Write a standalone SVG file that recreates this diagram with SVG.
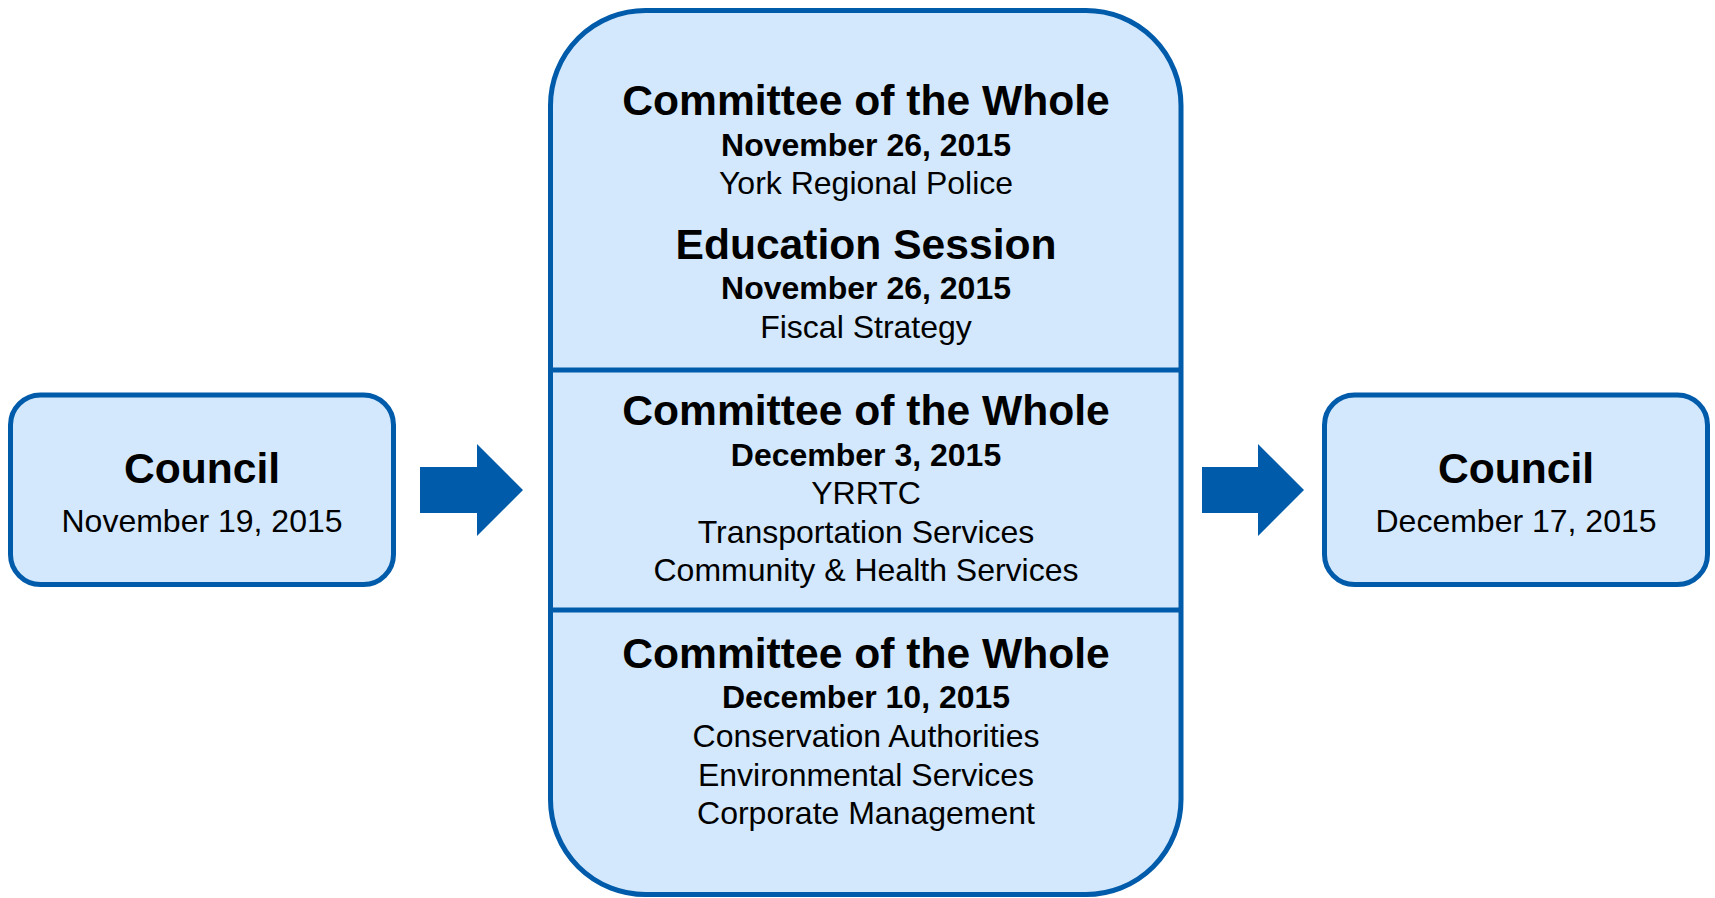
<svg xmlns="http://www.w3.org/2000/svg" width="1715" height="898" viewBox="0 0 1715 898">
<style>
.box{fill:#D3E8FC;stroke:#005BAA;stroke-width:5}
.div{stroke:#005BAA;stroke-width:5;fill:none}
.arrow{fill:#005BAA}
text{font-family:"Liberation Sans",Arial,sans-serif;fill:#000;text-anchor:middle}
.t{font-size:42.6px;font-weight:bold}
.d{font-size:32px;font-weight:bold}
.b{font-size:32px}
</style>
<rect width="1715" height="898" fill="#fff"/>
<g id="council-nov19">
<rect class="box" x="10.5" y="395" width="383" height="189.5" rx="30"/>
<text class="t" x="202" y="483">Council</text>
<text class="b" x="202" y="532">November 19, 2015</text>
</g>
<g id="committee">
<rect class="box" x="550.5" y="10.5" width="630.5" height="884" rx="95"/>
<line class="div" x1="550.5" y1="370" x2="1181" y2="370"/>
<line class="div" x1="550.5" y1="610" x2="1181" y2="610"/>
<text class="t" x="866" y="115">Committee of the Whole</text>
<text class="d" x="866" y="156">November 26, 2015</text>
<text class="b" x="866" y="194">York Regional Police</text>
<text class="t" x="866" y="259">Education Session</text>
<text class="d" x="866" y="299">November 26, 2015</text>
<text class="b" x="866" y="338">Fiscal Strategy</text>
<text class="t" x="866" y="425">Committee of the Whole</text>
<text class="d" x="866" y="466">December 3, 2015</text>
<text class="b" x="866" y="504">YRRTC</text>
<text class="b" x="866" y="543">Transportation Services</text>
<text class="b" x="866" y="581">Community &amp; Health Services</text>
<text class="t" x="866" y="668">Committee of the Whole</text>
<text class="d" x="866" y="708">December 10, 2015</text>
<text class="b" x="866" y="747">Conservation Authorities</text>
<text class="b" x="866" y="786">Environmental Services</text>
<text class="b" x="866" y="824">Corporate Management</text>
</g>
<g id="council-dec17">
<rect class="box" x="1324.5" y="395" width="383" height="189.5" rx="30"/>
<text class="t" x="1516" y="483">Council</text>
<text class="b" x="1516" y="532">December 17, 2015</text>
</g>
<g id="connectors">
<polygon class="arrow" points="420,467 477,467 477,444 523,490 477,536 477,513 420,513"/>
<polygon class="arrow" points="1202,467 1258,467 1258,444 1304,490 1258,536 1258,513 1202,513"/>
</g>
</svg>
